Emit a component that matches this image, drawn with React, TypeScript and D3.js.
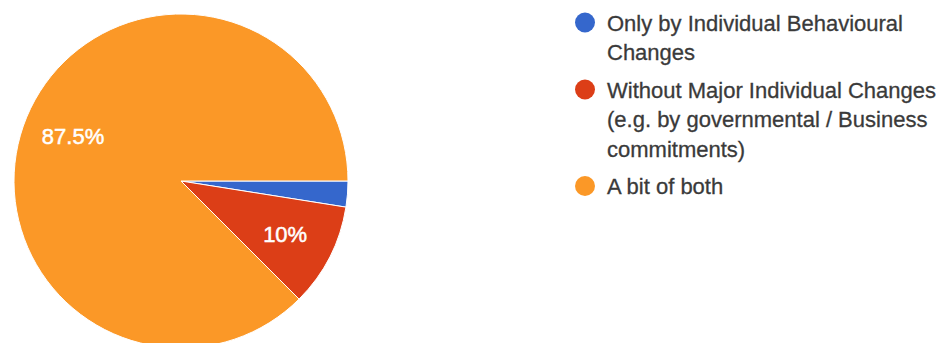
import React from "react";
import * as d3 from "d3";

const categories = [
  "Only by Individual Behavioural Changes",
  "Without Major Individual Changes (e.g. by governmental / Business commitments)",
  "A bit of both",
];
const legendLines = [
  ["Only by Individual Behavioural", "Changes"],
  ["Without Major Individual Changes", "(e.g. by governmental / Business", "commitments)"],
  ["A bit of both"],
];
const values = [2.5, 10, 87.5];
const sliceLabels = ["", "10%", "87.5%"];
const colors = ["#3567cc", "#dc3e17", "#fb9827"];

const W = 946;
const H = 343;
const cx = 181;
const cy = 181;
const R = 167;
const FONT = "'Liberation Sans', Arial, Helvetica, sans-serif";

export default function App() {
  const pie = d3
    .pie<number>()
    .sort(null)
    .value((d) => d)
    .startAngle(Math.PI / 2)
    .endAngle(Math.PI / 2 + 2 * Math.PI);
  const arcs = pie(values);
  const arc = d3.arc<d3.PieArcDatum<number>>().innerRadius(0).outerRadius(R);
  const labelArc = d3.arc<d3.PieArcDatum<number>>().innerRadius(R * 0.7).outerRadius(R * 0.7);

  const lineH = 29.5;
  const gap = 8;
  let y = 22.5;
  const legendItems = legendLines.map((lines, i) => {
    const top = y;
    y += lines.length * lineH + gap;
    return { lines, top, i };
  });

  return (
    <svg width={W} height={H} style={{ position: "absolute", left: 0, top: 0, background: "#fff" }}>
      <g transform={`translate(${cx},${cy})`}>
        {arcs.map((a, i) => (
          <path key={i} d={arc(a) || ""} fill={colors[i]} stroke="#fff" strokeWidth={1} />
        ))}
        {arcs.map((a, i) => {
          if (!sliceLabels[i]) return null;
          const [lx, ly] = labelArc.centroid(a);
          return (
            <text
              key={"l" + i}
              x={lx}
              y={ly}
              textAnchor="middle"
              dominantBaseline="central"
              fill="#fff"
              stroke="#fff"
              strokeWidth={0.5}
              fontFamily={FONT}
              fontSize={22}
            >
              {sliceLabels[i]}
            </text>
          );
        })}
      </g>
      <g>
        {legendItems.map(({ lines, top, i }) => (
          <g key={categories[i]}>
            <circle cx={585} cy={top} r={10} fill={colors[i]} />
            {lines.map((ln, j) => (
              <text
                key={j}
                x={607}
                y={top + j * lineH + 8}
                fill="#3a3a3a"
                stroke="#3a3a3a"
                strokeWidth={0.3}
                fontFamily={FONT}
                fontSize={22}
              >
                {ln}
              </text>
            ))}
          </g>
        ))}
      </g>
    </svg>
  );
}
